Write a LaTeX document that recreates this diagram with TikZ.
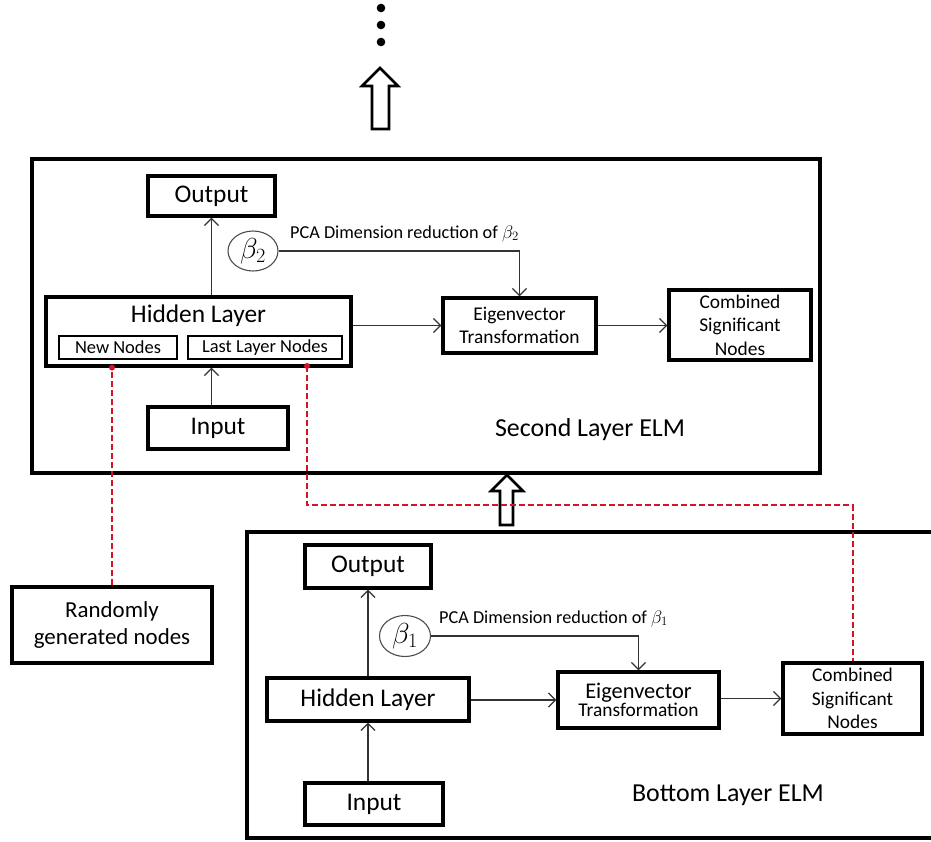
\RequirePackage{fix-cm}
\documentclass[tikz,border=0pt]{standalone}
\usepackage{fontspec}
\setmainfont{Carlito}
\usetikzlibrary{arrows.meta,calc,shapes.geometric}

\begin{document}
\begin{tikzpicture}[x=1bp,y=-1bp,
  frame/.style={line width=3.2bp, line cap=butt},
  blk/.style={draw, line width=3.2bp, inner sep=0pt, align=center},
  subblk/.style={draw, line width=1.4bp, inner sep=0pt},
  coef/.style={draw=black!70, line width=1.1bp, ellipse, inner sep=0pt,
               minimum width=50bp, minimum height=40bp,
               font=\fontsize{29}{32}\selectfont},
  conn/.style={draw=black!80, line width=1.3bp,
               -{Straight Barb[length=7bp,width=14bp]}},
  redlink/.style={draw={rgb,255:red,210;green,20;blue,40}, line width=2bp,
                  dash pattern=on 6bp off 3bp},
  reddot/.style={fill={rgb,255:red,210;green,20;blue,40}},
  hollow/.style={draw, line width=2.6bp, line join=miter},
  bigtxt/.style={font=\fontsize{25.5}{30}\selectfont},
  midtxt/.style={font=\fontsize{19.5}{23.5}\selectfont},
  smalltxt/.style={font=\fontsize{18.5}{22}\selectfont},
  pcatxt/.style={font=\fontsize{18.3}{20}\selectfont, inner sep=0pt, anchor=base west},
  titletxt/.style={font=\fontsize{26}{30}\selectfont}
]
\useasboundingbox (0,0) rectangle (931,842);

% continuation dots and upward arrow at the top
\foreach \y in {8,25,42} \fill (381,\y) circle (4.3bp);
\draw[hollow] (372,129) -- (372,86) -- (362,86) -- (380,68) -- (398,86)
  -- (389,86) -- (389,129) -- cycle;

% ---------------- second layer ELM ----------------
\draw[frame] (32,159) rectangle (820,473);
\node[blk, bigtxt, minimum width=127bp, minimum height=40bp] (out2) at (211.5,196) {Output};
\node[coef] (beta2) at (253,251) {$\beta_2$};
\node[blk, minimum width=305bp, minimum height=69bp] (hid2) at (198.5,331.5) {};
\node[bigtxt, inner sep=0pt] (hid2t) at (198.5,316) {Hidden Layer};
\node[subblk, smalltxt, minimum width=118bp, minimum height=23bp] (new) at (118,347.5) {New Nodes};
\node[subblk, smalltxt, minimum width=154bp, minimum height=23bp] (last) at (265,347.5) {Last Layer Nodes};
\node[blk, bigtxt, minimum width=140bp, minimum height=42bp] (in2) at (218,428) {Input};
\node[blk, midtxt, minimum width=153bp, minimum height=55bp] (eig2) at (519.5,325.5) {Eigenvector\\Transformation};
\node[blk, midtxt, minimum width=142bp, minimum height=70bp] (comb2) at (740,325) {Combined\\Significant\\Nodes};
\node[titletxt, inner sep=0pt] (lab2) at (590,430) {Second Layer ELM};
\node[pcatxt] (pca2) at (290,238) {PCA Dimension reduction of $\beta_2$};

\draw[conn] (hid2.north -| out2.south) -- (out2.south);
\draw[conn] (in2.north -| out2.south) -- (hid2.south -| out2.south);
\draw[conn] (hid2.east |- eig2.west) -- (eig2.west);
\draw[conn] (eig2.east) -- (eig2.east -| comb2.west);
\draw[conn] (beta2.east) -| (eig2.north);

% hollow arrow between the two layers
\draw[hollow] (500,525) -- (500,491) -- (491,491) -- (507,475) -- (523,491)
  -- (513,491) -- (513,525) -- cycle;

% ---------------- bottom layer ELM ----------------
\draw[frame] (931,532) -- (247,532) -- (247,838) -- (931,838);
\node[blk, bigtxt, minimum width=126bp, minimum height=43bp] (out1) at (368,566.5) {Output};
\node[coef, minimum width=51bp, minimum height=41bp] (beta1) at (405,636) {$\beta_1$};
\node[blk, bigtxt, minimum width=202bp, minimum height=43bp] (hid1) at (368,699.5) {Hidden Layer};
\node[blk, bigtxt, minimum width=138bp, minimum height=42bp] (in1) at (374,804) {Input};
\node[blk, minimum width=161bp, minimum height=56bp] (eig1) at (638.5,700)
  {{\fontsize{22.5}{25}\selectfont Eigenvector}\\{\fontsize{19.5}{24}\selectfont Transformation}};
\node[blk, midtxt, minimum width=139bp, minimum height=71bp] (comb1) at (852.5,698.5) {Combined\\Significant\\Nodes};
\node[titletxt, inner sep=0pt] (lab1) at (728,795) {Bottom Layer ELM};
\node[pcatxt] (pca1) at (439,623) {PCA Dimension reduction of $\beta_1$};

\draw[conn] (hid1.north) -- (out1.south);
\draw[conn] (hid1.south |- in1.north) -- (hid1.south);
\draw[conn] (hid1.east |- eig1.west) -- (eig1.west);
\draw[conn] (eig1.east |- comb1.west) -- (comb1.west);
\draw[conn] (beta1.east) -| (eig1.north);

% ---------------- randomly generated nodes ----------------
\node[blk, font=\fontsize{23}{27}\selectfont, minimum width=200bp, minimum height=76bp] (rand) at (112,625)
  {Randomly\\generated nodes};

% red dashed links
\coordinate (tapN) at (rand.north |- hid2.south);
\coordinate (tapL) at (307,366);
\coordinate (bend) at (comb1.north |- 0,505);
\draw[redlink] (rand.north) -- (tapN);
\draw[redlink] (tapL) |- (bend) -- (comb1.north);
\fill[reddot] (tapN) circle (3bp);
\fill[reddot] (tapL) circle (3bp);
\end{tikzpicture}
\end{document}
